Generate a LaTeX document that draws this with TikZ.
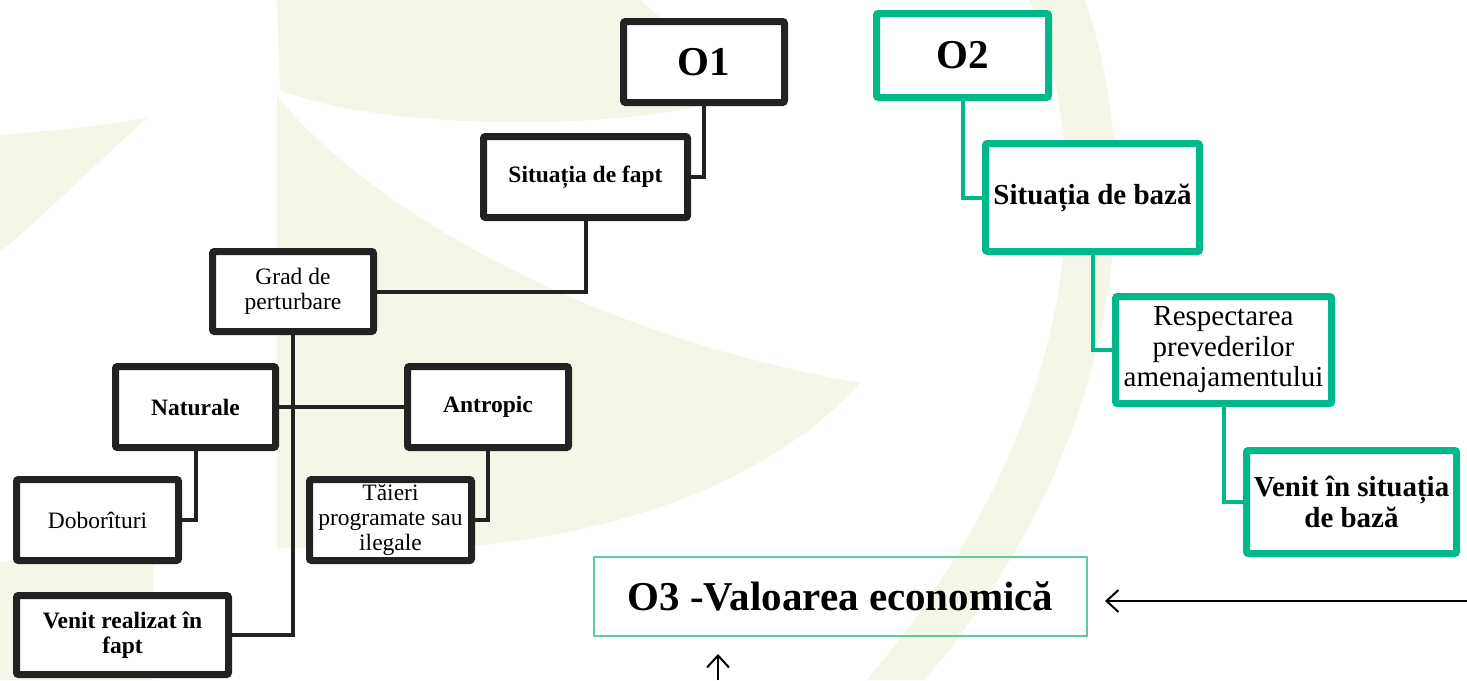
\documentclass[tikz,border=0pt]{standalone}
\usepackage{fontspec}
\setmainfont{Liberation Serif}
\usetikzlibrary{arrows.meta,shadows}

\definecolor{boxgray}{RGB}{34,34,34}
\definecolor{boxgreen}{RGB}{0,184,137}
\definecolor{framegreen}{RGB}{100,202,155}
\definecolor{leaf}{RGB}{244,247,231}

\newcommand{\fsmall}{\fontsize{23.5}{25}\selectfont}
\newcommand{\fmid}{\fontsize{29}{30.5}\selectfont}
\newcommand{\fhuge}{\fontsize{41}{44}\selectfont}

\begin{document}
\begin{tikzpicture}[
    x=1pt, y=-1pt,
    >={Straight Barb[length=12pt,width=22pt]},
    box/.style={rounded corners=2pt, fill=white, inner sep=0pt, align=center, line width=7pt,
        drop shadow={shadow xshift=1.5pt, shadow yshift=-2.5pt, opacity=0.3, fill=black!70}},
    blackbox/.style={box, draw=boxgray, font=\fsmall},
    greenbox/.style={box, draw=boxgreen, font=\fmid},
    blackline/.style={draw=boxgray, line width=4pt},
    greenline/.style={draw=boxgreen, line width=4pt},
    arrow/.style={->, line width=2pt, shorten >=17pt}
]
\useasboundingbox (0,0) rectangle (1467,680);

% watermark in the background
\fill[leaf] (277,0) -- (640,0) .. controls (680,30) and (700,70) .. (705,105)
    .. controls (600,130) and (380,130) .. (280,90) -- cycle;
\fill[leaf] (277,95) .. controls (350,190) and (560,330) .. (860,383)
    .. controls (800,450) and (680,525) .. (480,545) -- (277,548) -- cycle;
\fill[leaf] (0,135) .. controls (60,130) and (110,125) .. (148,117)
    .. controls (100,160) and (50,210) .. (0,252) -- cycle;
\fill[leaf] (0,562) -- (153,552) -- (153,680) -- (0,680) -- cycle;
\fill[leaf] (1030,0) .. controls (1090,150) and (1100,400) .. (867,680)
    -- (925,680) .. controls (1140,420) and (1140,160) .. (1085,0) -- cycle;

% O1 branch
\node[blackbox, minimum width=161pt, minimum height=81pt, font=\fhuge] (o1) at (704,62) {\bfseries O1};
\node[blackbox, minimum width=204pt, minimum height=81pt] (sitf) at (585.5,177) {\bfseries Situația de fapt};
\node[blackbox, minimum width=161pt, minimum height=80pt] (grad) at (293,291.5) {Grad de\\perturbare};
\node[blackbox, minimum width=160pt, minimum height=81pt] (nat) at (195.5,407) {\bfseries Naturale};
\node[blackbox, minimum width=161pt, minimum height=81pt] (antr) at (488,407) {\bfseries Antropic};
\node[blackbox, minimum width=162pt, minimum height=81pt] (dob) at (97.5,520) {Doborîturi};
\node[blackbox, minimum width=162pt, minimum height=81pt] (taieri) at (390.5,520) {Tăieri\\programate sau\\ilegale};
\node[blackbox, minimum width=212pt, minimum height=79pt] (venr) at (122.5,635) {\bfseries Venit realizat în\\\bfseries fapt};

% O2 branch
\node[greenbox, minimum width=172pt, minimum height=84pt, font=\fhuge] (o2) at (962.5,55.5) {\bfseries O2};
\node[greenbox, minimum width=214pt, minimum height=108pt] (sitb) at (1092.5,197.5) {\bfseries Situația de bază};
\node[greenbox, minimum width=216pt, minimum height=107pt] (resp) at (1223.5,350) {Respectarea\\prevederilor\\amenajamentului};
\node[greenbox, minimum width=210pt, minimum height=103pt] (venb) at (1351.5,502) {\bfseries Venit în situația\\\bfseries de bază};

% O3
\node[draw=framegreen, line width=2pt, inner sep=0pt, minimum width=493pt, minimum height=79pt, font=\fhuge] (o3) at (840.5,596.5) {\bfseries O3 -Valoarea economică};

\coordinate (rin) at (1467,601);
\coordinate (bin) at (718,680);

\draw[blackline] (o1.south) |- (sitf.east);
\draw[blackline] (sitf.south) |- (grad.east);
\draw[blackline] (grad.south) |- (venr.east);
\draw[blackline] (nat.east) -- (antr.west);
\draw[blackline] (nat.south) |- (dob.east);
\draw[blackline] (antr.south) |- (taieri.east);

\draw[greenline] (o2.south) |- (sitb.west);
\draw[greenline] (sitb.south) |- (resp.west);
\draw[greenline] (resp.south) |- (venb.west);

\draw[arrow] (rin) -- (o3.east |- rin);
\draw[arrow] (bin) -- (bin |- o3.south);
\end{tikzpicture}
\end{document}
